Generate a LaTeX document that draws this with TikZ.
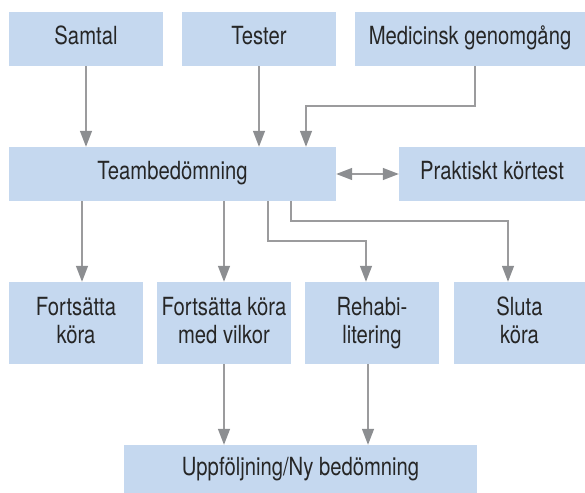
\documentclass[tikz,border=0pt]{standalone}
\usepackage{fontspec}
\setmainfont{TeX Gyre Heros}[FakeStretch=0.81]
\usetikzlibrary{arrows.meta}
\definecolor{boxblue}{HTML}{C5D8EF}
\definecolor{linegray}{HTML}{9B9B9D}
\definecolor{tipgray}{HTML}{8C8E91}
\definecolor{txt}{HTML}{262626}
\begin{document}
\begin{tikzpicture}[x=1bp,y=-1bp,
  box/.style={fill=boxblue, draw=none, inner sep=0pt, text=txt, align=center,
    font=\fontsize{25bp}{28bp}\selectfont, text height=18bp, text depth=6bp},
  twoline/.style={text height=46bp, text depth=6bp},
  conn/.style={draw=linegray, line width=1.3bp,
    -{Triangle[width=12bp,length=16bp,color=tipgray]}},
  dconn/.style={draw=linegray, line width=1.3bp,
    {Triangle[width=12bp,length=16bp,color=tipgray]}-{Triangle[width=12bp,length=16bp,color=tipgray]}}
]
\useasboundingbox (0,0) rectangle (585,493);

\node[box, minimum width=154bp, minimum height=54bp] (samtal) at (86,39) {Samtal};
\node[box, minimum width=154bp, minimum height=54bp] (tester) at (259,39) {Tester};
\node[box, minimum width=230bp, minimum height=54bp] (medic) at (470,39) {Medicinsk genomgång};
\node[box, minimum width=327bp, minimum height=54bp] (team) at (172.5,174) {Teambedömning};
\node[box, minimum width=186bp, minimum height=54bp] (prak) at (492,174) {Praktiskt körtest};
\node[box, twoline, minimum width=134bp, minimum height=82bp] (fk) at (76,323) {Fortsätta\\köra};
\node[box, twoline, minimum width=134bp, minimum height=82bp] (fkv) at (224,323) {Fortsätta köra\\med vilkor};
\node[box, twoline, minimum width=134bp, minimum height=82bp] (rehab) at (372,323) {Rehabi-\\litering};
\node[box, twoline, minimum width=131bp, minimum height=82bp] (sluta) at (519.5,323) {Sluta\\köra};
\node[box, minimum width=353bp, minimum height=48bp] (upp) at (300.5,469) {Uppföljning/Ny bedömning};

\coordinate (mj) at (306,106);
\coordinate (rj) at (366,241);
\coordinate (sj) at (508,221);
\coordinate (x82) at (82,0);
\coordinate (x268) at (268,0);
\coordinate (x291) at (291,0);
\coordinate (x368) at (368,0);

\draw[conn] (samtal.south) -- (samtal.south |- team.north);
\draw[conn] (tester.south) -- (tester.south |- team.north);
\draw[conn] ([xshift=5bp]medic.south) |- (mj) -- (mj |- team.north);
\draw[dconn] (team.east) -- (prak.west);

\draw[conn] (team.south -| x82) -- (fk.north -| x82);
\draw[conn] (team.south -| fkv.north) -- (fkv.north);
\draw[conn] (team.south -| x268) |- (rj) -- (rj |- rehab.north);
\draw[conn] (team.south -| x291) |- (sj) -- (sj |- sluta.north);

\draw[conn] (fkv.south) -- (fkv.south |- upp.north);
\draw[conn] (rehab.south -| x368) -- (upp.north -| x368);
\end{tikzpicture}
\end{document}
